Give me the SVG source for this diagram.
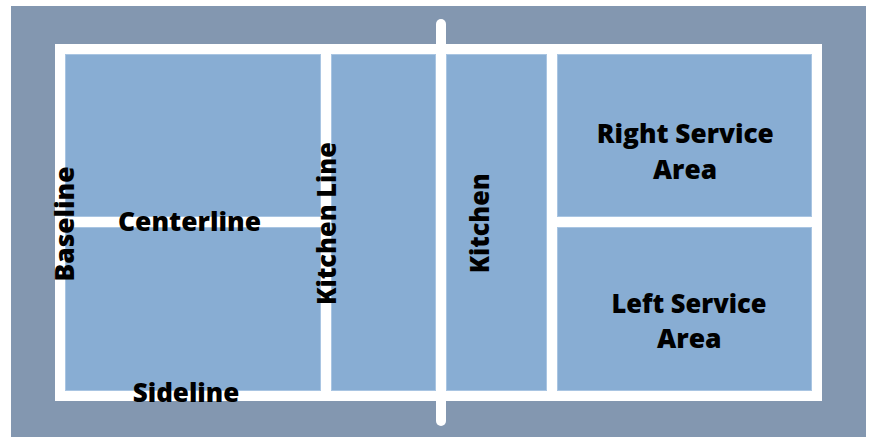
<svg xmlns="http://www.w3.org/2000/svg" width="874" height="437" viewBox="0 0 874 437">
<style>
.cell{fill:#88add3;stroke:#a9c5e2;stroke-width:1}
.lbl{font-family:"Open Sans","Liberation Sans",sans-serif;font-weight:800;font-size:26px;fill:#000;text-anchor:middle}
</style>
<rect x="0" y="0" width="874" height="437" fill="#ffffff"/>
<rect id="surround" x="11" y="6" width="855" height="431" fill="#8397b0"/>
<rect id="court-lines" x="55" y="44" width="767" height="357" fill="#ffffff"/>
<g id="left-top"><rect class="cell" x="65.5" y="54.5" width="255" height="162"/></g>
<g id="left-bottom"><rect class="cell" x="65.5" y="227.5" width="255" height="163"/></g>
<g id="left-kitchen"><rect class="cell" x="331.5" y="54.5" width="104" height="336"/></g>
<g id="right-kitchen"><rect class="cell" x="446.5" y="54.5" width="100" height="336"/></g>
<g id="right-service"><rect class="cell" x="557.5" y="54.5" width="254" height="162"/>
<text class="lbl" x="685.3" y="143" textLength="177" lengthAdjust="spacingAndGlyphs">Right Service</text>
<text class="lbl" x="685" y="179" textLength="64" lengthAdjust="spacingAndGlyphs">Area</text></g>
<g id="left-service"><rect class="cell" x="557.5" y="227.5" width="254" height="163"/>
<text class="lbl" x="689" y="312.7" textLength="155" lengthAdjust="spacingAndGlyphs">Left Service</text>
<text class="lbl" x="689.3" y="348" textLength="64.7" lengthAdjust="spacingAndGlyphs">Area</text></g>
<g id="net"><rect x="436" y="19" width="10" height="407" rx="5" fill="#ffffff"/></g>
<g id="labels">
<text class="lbl" x="189.5" y="231" textLength="143" lengthAdjust="spacingAndGlyphs">Centerline</text>
<text class="lbl" x="186" y="402" textLength="106.6" lengthAdjust="spacingAndGlyphs">Sideline</text>
<text class="lbl" transform="translate(74,224) rotate(-90)" x="0" y="0" textLength="115" lengthAdjust="spacingAndGlyphs">Baseline</text>
<text class="lbl" transform="translate(336,223.5) rotate(-90)" x="0" y="0" textLength="163" lengthAdjust="spacingAndGlyphs">Kitchen Line</text>
<text class="lbl" transform="translate(489,223.3) rotate(-90)" x="0" y="0" textLength="100" lengthAdjust="spacingAndGlyphs">Kitchen</text>
</g>
<g id="connectors"></g>
</svg>
